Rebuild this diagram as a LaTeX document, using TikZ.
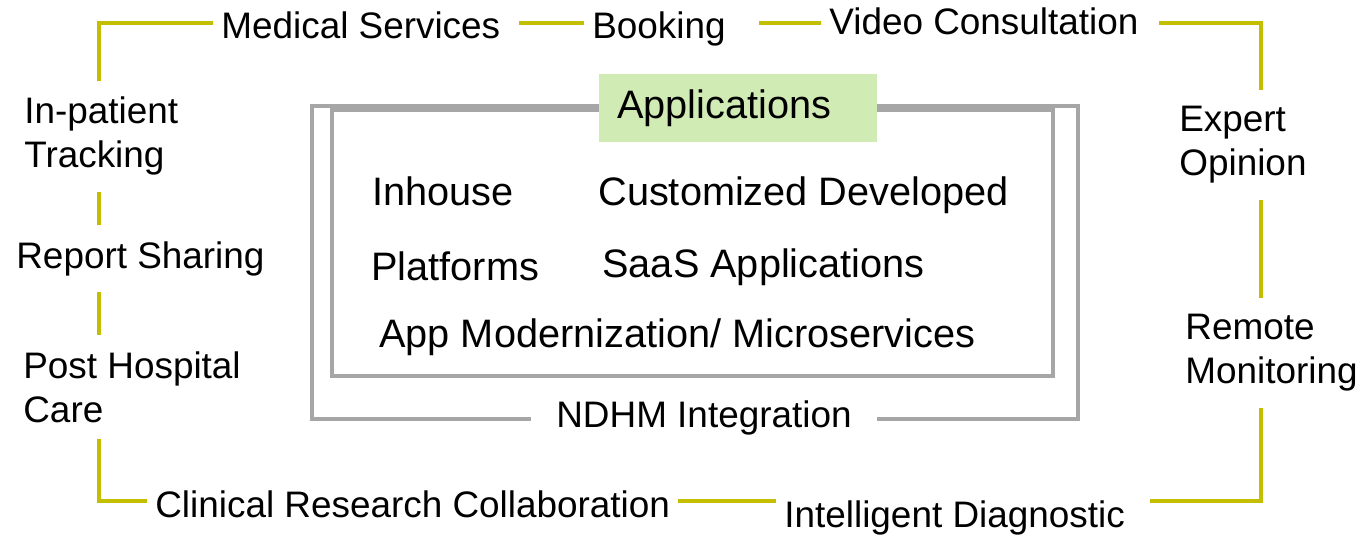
\documentclass[tikz,border=0pt]{standalone}
\usepackage{fontspec}
\setmainfont{Liberation Sans}
\definecolor{ringyellow}{RGB}{196,190,0}
\definecolor{framegray}{RGB}{166,166,166}
\definecolor{appgreen}{RGB}{209,235,180}

\begin{document}
\begin{tikzpicture}[x=0.02cm, y=-0.02cm,
    ring/.style={draw=ringyellow, line width=2.2pt, line join=miter},
    frame/.style={draw=framegray, line width=2.2pt},
    service/.style={font=\fontsize{21}{25}\selectfont, inner xsep=0.16cm, inner ysep=0.32cm, align=left},
    app/.style={font=\fontsize{22.6}{27}\selectfont, inner sep=0pt, anchor=base west}]
    \useasboundingbox (0,0) rectangle (1364,539);

    % Frames
    \draw[frame] (312,106) rectangle (1078,419);
    \draw[frame] (332,110) rectangle (1053,376);
    \node[app, anchor=center, fill=appgreen, text width=4.84cm, inner xsep=0.36cm, minimum height=1.36cm] (apps) at (738,108) {Applications};
    \node[service, fill=white, inner xsep=0.5cm, inner ysep=0.1cm, anchor=base west] (ndhm) at (531,427) {NDHM Integration};

    % Applications
    \node[app] (inhouse) at (372,205) {Inhouse};
    \node[app] (custom) at (598,205) {Customized Developed};
    \node[app] (platforms) at (371,280) {Platforms};
    \node[app] (saas) at (602,277) {SaaS Applications};
    \node[app] (modern) at (379,347) {App Modernization/ Microservices};

    % Services round the frame
    \node[service, anchor=base west] (medical) at (213,38) {Medical Services};
    \node[service, anchor=base west] (booking) at (584,38) {Booking};
    \node[service, anchor=base west] (video) at (821,34) {Video Consultation};
    \node[service, anchor=west] (expert) at (1171,145) {Expert\\Opinion};
    \node[service, anchor=west] (remote) at (1177,353) {Remote\\Monitoring};
    \node[service, anchor=base west] (diagnostic) at (776,527) {Intelligent Diagnostic};
    \node[service, anchor=base west] (research) at (147,517) {Clinical Research Collaboration};
    \node[service, anchor=west] (posthosp) at (15,387) {Post Hospital\\Care};
    \node[service, anchor=base west] (reports) at (8,268) {Report Sharing};
    \node[service, anchor=west] (inpatient) at (16,136) {In-patient\\Tracking};

    % Corners of the ring
    \coordinate (nw) at (99,23);
    \coordinate (ne) at (1261,23);
    \coordinate (se) at (1261,501);
    \coordinate (sw) at (99,501);

    % Ring
    \draw[ring] (inpatient.north -| nw) -- (nw) -- (medical.west |- nw);
    \draw[ring, shorten <=0.2cm] (medical.east |- nw) -- (booking.west |- nw);
    \draw[ring, shorten <=0.5cm] (booking.east |- nw) -- (video.west |- nw);
    \draw[ring, shorten <=0.24cm] (video.east |- ne) -- (ne) -- (expert.north -| ne);
    \draw[ring] (expert.south -| ne) -- (remote.north -| ne);
    \draw[ring, shorten >=0.34cm] (remote.south -| ne) -- (se) -- (diagnostic.east |- se);
    \draw[ring] (diagnostic.west |- sw) -- (research.east |- sw);
    \draw[ring] (research.west |- sw) -- (sw) -- (posthosp.south -| sw);
    \draw[ring] (posthosp.north -| sw) -- (reports.south -| sw);
    \draw[ring] (reports.north -| sw) -- (inpatient.south -| sw);
\end{tikzpicture}
\end{document}
